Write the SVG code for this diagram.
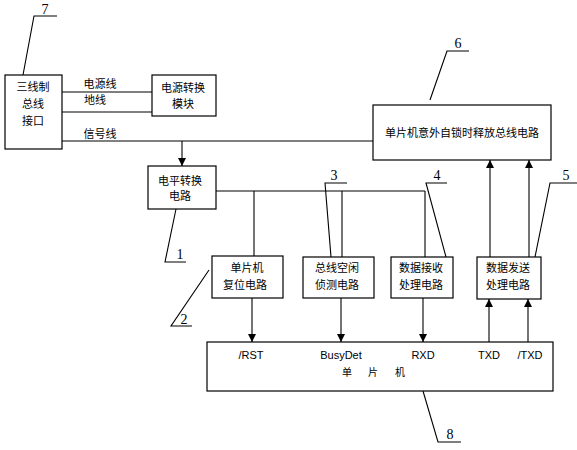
<svg xmlns="http://www.w3.org/2000/svg" width="577" height="450" viewBox="0 0 577 450">
<defs>
<marker id="ah" viewBox="0 0 10 10" refX="10" refY="5" markerWidth="8" markerHeight="8" markerUnits="userSpaceOnUse" orient="auto">
<path d="M0,0 L10,5 L0,10 z" fill="#000"/>
</marker>
<style>
.box{fill:#fff;stroke:#000;stroke-width:1.2}
.ln{fill:none;stroke:#000;stroke-width:1.1}
.ar{fill:none;stroke:#000;stroke-width:1.1;marker-end:url(#ah)}
.cn{font-family:"Noto Sans CJK SC","Noto Sans",sans-serif;font-size:11px;fill:#000;text-anchor:middle}
.en{font-family:"Liberation Sans",Arial,sans-serif;font-size:11px;fill:#000;text-anchor:middle}
.num{font-family:"Liberation Serif","Times New Roman",serif;font-size:14px;fill:#000;text-anchor:middle}
</style>
</defs>
<rect width="577" height="450" fill="#fff"/>
<g id="connectors">
<line class="ln" x1="62" y1="92" x2="152" y2="92"/>
<line class="ln" x1="62" y1="112" x2="152" y2="112"/>
<line class="ln" x1="62" y1="141" x2="373" y2="141"/>
<line class="ar" x1="182" y1="141" x2="182" y2="166"/>
<line class="ln" x1="216" y1="191" x2="425" y2="191"/>
<line class="ln" x1="254" y1="191" x2="254" y2="256"/>
<line class="ln" x1="342" y1="191" x2="342" y2="257"/>
<line class="ln" x1="425" y1="191" x2="425" y2="257"/>
<line class="ar" x1="490" y1="257" x2="490" y2="160"/>
<line class="ar" x1="529" y1="257" x2="529" y2="160"/>
<line class="ar" x1="252" y1="298" x2="252" y2="342"/>
<line class="ar" x1="341" y1="298" x2="341" y2="342"/>
<line class="ar" x1="423" y1="298" x2="423" y2="342"/>
<line class="ar" x1="489" y1="342" x2="489" y2="299"/>
<line class="ar" x1="528" y1="342" x2="528" y2="299"/>
<text class="cn" x="100" y="88">电源线</text>
<text class="cn" x="95" y="104">地线</text>
<text class="cn" x="100" y="138">信号线</text>
</g>
<g id="labels">
<polyline class="ln" points="23,75 34,16 57,16"/>
<text class="num" x="45" y="14">7</text>
<polyline class="ln" points="430,100 447,51 469,51"/>
<text class="num" x="458" y="48">6</text>
<polyline class="ln" points="176,209 165,262 186,262"/>
<text class="num" x="180" y="259">1</text>
<polyline class="ln" points="209,270 171,326 192,326"/>
<text class="num" x="184" y="324">2</text>
<polyline class="ln" points="331,257 325,183 347,183"/>
<text class="num" x="334" y="180">3</text>
<polyline class="ln" points="446,257 426,183 447,183"/>
<text class="num" x="437" y="180">4</text>
<polyline class="ln" points="535,257 550,183 577,183"/>
<text class="num" x="566" y="180">5</text>
<polyline class="ln" points="423,391 438,442 461,442"/>
<text class="num" x="450" y="439">8</text>
</g>
<g id="node7">
<rect class="box" x="5" y="75" width="57" height="74"/>
<text class="cn" x="33" y="91">三线制</text>
<text class="cn" x="33" y="108">总线</text>
<text class="cn" x="33" y="125">接口</text>
</g>
<g id="node-power">
<rect class="box" x="152" y="75" width="64" height="41"/>
<text class="cn" x="183" y="92">电源转换</text>
<text class="cn" x="183" y="108">模块</text>
</g>
<g id="node6">
<rect class="box" x="373" y="105" width="178" height="55"/>
<text class="cn" x="462" y="137">单片机意外自锁时释放总线电路</text>
</g>
<g id="node-level">
<rect class="box" x="148" y="166" width="68" height="43"/>
<text class="cn" x="180" y="185">电平转换</text>
<text class="cn" x="180" y="200">电路</text>
</g>
<g id="node-reset">
<rect class="box" x="212" y="256" width="71" height="42"/>
<text class="cn" x="247" y="272">单片机</text>
<text class="cn" x="245" y="289">复位电路</text>
</g>
<g id="node-idle">
<rect class="box" x="303" y="257" width="71" height="41"/>
<text class="cn" x="337" y="272">总线空闲</text>
<text class="cn" x="337" y="289">侦测电路</text>
</g>
<g id="node-rx">
<rect class="box" x="391" y="257" width="62" height="41"/>
<text class="cn" x="421" y="272">数据接收</text>
<text class="cn" x="421" y="289">处理电路</text>
</g>
<g id="node-tx">
<rect class="box" x="477" y="257" width="64" height="42"/>
<text class="cn" x="508" y="272">数据发送</text>
<text class="cn" x="508" y="289">处理电路</text>
</g>
<g id="node8">
<rect class="box" x="207" y="342" width="346" height="49"/>
<text class="en" x="251" y="359">/RST</text>
<text class="en" x="341" y="359">BusyDet</text>
<text class="en" x="423" y="359">RXD</text>
<text class="en" x="489" y="359">TXD</text>
<text class="en" x="530" y="359">/TXD</text>
<text class="cn" y="376" style="font-size:10px"><tspan x="347">单</tspan><tspan x="373">片</tspan><tspan x="400">机</tspan></text>
</g>
</svg>
